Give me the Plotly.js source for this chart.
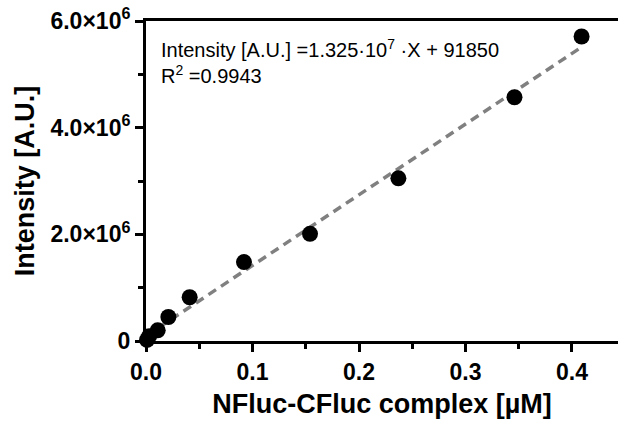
<!DOCTYPE html>
<html>
<head>
<meta charset="utf-8">
<script src="https://cdn.plot.ly/plotly-3.0.1.min.js"></script>
<style>html,body{margin:0;padding:0;background:#fff;}#chart{width:618px;height:421px;}</style>
</head>
<body>
<div id="chart"></div>
<script>
// Measured data (concentration in µM, intensity in A.U.)
const conc = [0.001, 0.003, 0.011, 0.021, 0.041, 0.092, 0.154, 0.237, 0.346, 0.409];
const intensity = [20000, 90000, 200000, 450000, 820000, 1480000, 2010000, 3050000, 4570000, 5710000];

// Linear fit endpoints (Intensity = 1.325e7 * X + 91850)
const fitX = [0, 0.41];
const fitY = [91850, 5524350];

// Tick labels
const xTickVals = [0, 0.1, 0.2, 0.3, 0.4];
const xTickText = ['0.0', '0.1', '0.2', '0.3', '0.4'];
const yTickVals = [0, 2000000, 4000000, 6000000];
const yTickText = ['0', '2.0×10<sup>6</sup>', '4.0×10<sup>6</sup>', '6.0×10<sup>6</sup>'];

const FONT = 'Liberation Sans, Arial, Helvetica, sans-serif';

const traces = [
  {
    x: fitX, y: fitY, type: 'scatter', mode: 'lines',
    line: {color: '#808080', width: 3.5, dash: '9px,6px'},
    hoverinfo: 'skip', showlegend: false
  },
  {
    x: conc, y: intensity, type: 'scatter', mode: 'markers',
    marker: {color: '#000', size: 16},
    cliponaxis: false, showlegend: false
  }
];

const layout = {
  width: 618, height: 421,
  margin: {l: 146, r: 0, t: 21, b: 80, pad: 0},
  paper_bgcolor: '#fff', plot_bgcolor: '#fff',
  font: {family: FONT, color: '#000'},
  showlegend: false,
  xaxis: {
    range: [0, 0.4432],
    tickvals: xTickVals, ticktext: xTickText,
    ticks: 'outside', ticklen: 8, tickwidth: 3, tickcolor: '#000',
    minor: {ticks: 'outside', ticklen: 5, tickwidth: 3, tickcolor: '#000', dtick: 0.05, showgrid: false},
    showline: true, linewidth: 3, linecolor: '#000', mirror: true,
    showgrid: false, zeroline: false,
    tickfont: {family: FONT, size: 23, weight: 'bold', color: '#000'},
    title: {text: 'NFluc-CFluc complex [µM]', font: {family: FONT, size: 27, weight: 'bold', color: '#000'}, standoff: 11}
  },
  yaxis: {
    range: [0, 6000000],
    tickvals: yTickVals, ticktext: yTickText,
    ticks: 'outside', ticklen: 8, tickwidth: 3, tickcolor: '#000',
    minor: {ticks: 'outside', ticklen: 5, tickwidth: 3, tickcolor: '#000', dtick: 1000000, showgrid: false},
    showline: true, linewidth: 3, linecolor: '#000',
    showgrid: false, zeroline: false,
    tickfont: {family: FONT, size: 23, weight: 'bold', color: '#000'},
    title: {text: 'Intensity [A.U.]', font: {family: FONT, size: 27, weight: 'bold', color: '#000'}, standoff: 8}
  },
  annotations: [{
    xref: 'paper', yref: 'paper', x: 0.027, y: 0.96,
    xanchor: 'left', yanchor: 'top', align: 'left', showarrow: false,
    text: 'Intensity [A.U.] =1.325·10<sup>7</sup> ·X + 91850<br>R<sup>2</sup> =0.9943',
    font: {family: FONT, size: 20, color: '#000'}
  }]
};

Plotly.newPlot('chart', traces, layout, {staticPlot: true, displayModeBar: false});
</script>
</body>
</html>
